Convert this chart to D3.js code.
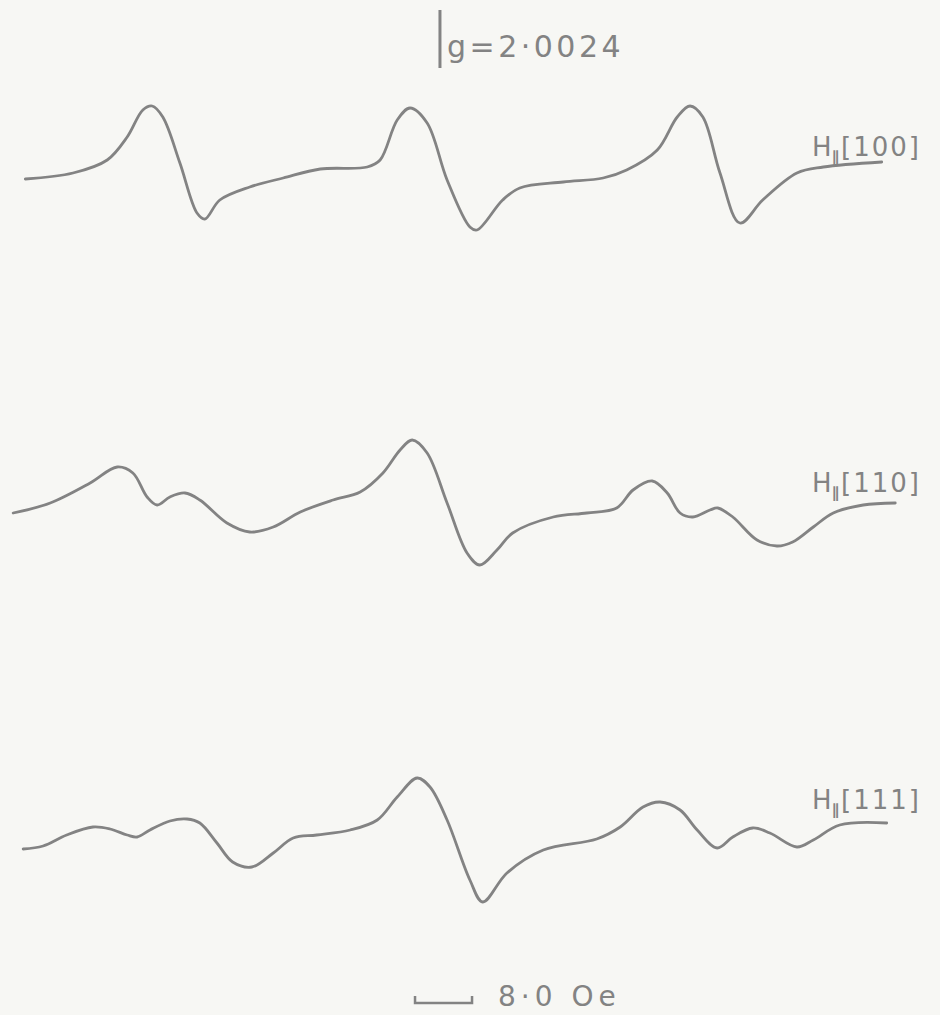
<!DOCTYPE html>
<html>
<head>
<meta charset="utf-8">
<script src="https://cdn.jsdelivr.net/npm/d3@7"></script>
<style>
  html, body { margin: 0; padding: 0; background: #f7f7f4; }
  svg { display: block; }
</style>
</head>
<body>
<div id="chart"></div>
<script>
// magnetic field offset from g = 2.0024 (Oe) and derivative signal (arb. units)
const field100 = [-58.2, -51.5, -46.7, -43.9, -41.7, -40.4, -38.9, -36.5, -34.1, -33.0, -30.9, -26.7, -22.0, -16.8, -10.2, -8.4, -6.0, -4.2, -1.8, 1.0, 4.2, 5.2, 8.8, 11.2, 17.3, 22.9, 26.2, 30.5, 33.3, 35.1, 36.9, 39.3, 42.1, 45.3, 50.1, 53.8, 62.0];
const signal100 = [-0.9, -0.3, 1.0, 3.3, 6.0, 6.4, 5.3, 0.7, -4.3, -4.9, -3.0, -1.7, -0.8, 0.1, 0.3, 1.0, 5.0, 6.2, 4.7, -1.0, -5.7, -6.0, -3.0, -1.8, -1.2, -0.8, 0.0, 2.0, 5.3, 6.4, 5.3, -0.3, -5.3, -3.0, -0.3, 0.3, 0.8];

const field110 = [-59.9, -54.7, -49.1, -45.3, -43.1, -41.1, -39.7, -37.9, -35.8, -33.7, -29.9, -26.7, -23.4, -19.6, -15.0, -11.2, -8.0, -5.6, -3.9, -1.8, 1.0, 3.8, 5.6, 8.0, 10.2, 15.9, 20.6, 24.8, 27.1, 29.8, 31.9, 33.7, 35.5, 37.9, 39.0, 41.1, 44.5, 47.3, 49.5, 52.4, 55.2, 59.4, 63.9];
const signal110 = [-0.8, 0.2, 2.2, 3.8, 3.2, 0.8, 0.0, 0.8, 1.2, 0.5, -1.8, -2.7, -2.2, -0.7, 0.5, 1.3, 3.2, 5.5, 6.5, 5.2, 0.2, -4.8, -6.0, -4.5, -2.8, -1.2, -0.8, -0.3, 1.5, 2.4, 1.2, -0.8, -1.2, -0.5, -0.3, -1.2, -3.5, -4.1, -3.7, -2.2, -0.8, 0.0, 0.2];

const field111 = [-58.5, -55.7, -52.4, -48.7, -46.3, -43.9, -42.5, -40.7, -37.9, -35.5, -33.7, -31.3, -29.1, -26.4, -23.4, -20.6, -17.3, -12.6, -8.8, -6.0, -3.2, -1.4, 1.0, 4.2, 6.0, 9.4, 14.5, 22.0, 25.3, 28.5, 30.9, 33.7, 36.1, 38.9, 41.1, 43.9, 46.3, 50.1, 52.4, 56.1, 62.7];
const signal111 = [-1.4, -1.1, 0.0, 0.8, 0.6, 0.0, -0.2, 0.5, 1.4, 1.6, 1.2, -0.8, -2.7, -3.2, -1.8, -0.3, 0.0, 0.5, 1.5, 3.8, 5.7, 4.8, 1.5, -4.5, -6.7, -3.8, -1.5, -0.4, 0.8, 2.8, 3.3, 2.5, 0.5, -1.3, -0.2, 0.7, 0.2, -1.2, -0.5, 1.0, 1.2];

const orientations = ['[100]', '[110]', '[111]'];
const gValue = '2·0024';
const scaleBarOe = 8.0;

const width = 940, height = 1015;
const ink = '#838383';
const baselines = [170, 505, 835];

const svg = d3.select('#chart').append('svg')
  .attr('width', width)
  .attr('height', height);

svg.append('rect')
  .attr('width', width).attr('height', height)
  .attr('fill', '#f7f7f4');

// field axis: 0 Oe sits under the g marker
const x = d3.scaleLinear().domain([-61.75, 70.18]).range([0, width]);

const traces = [
  { field: field100, signal: signal100 },
  { field: field110, signal: signal110 },
  { field: field111, signal: signal111 },
];

traces.forEach((t, k) => {
  const y = d3.scaleLinear().domain([-10, 10]).range([baselines[k] + 100, baselines[k] - 100]);
  const line = d3.line()
    .x((d, i) => x(t.field[i]))
    .y((d, i) => y(t.signal[i]))
    .curve(d3.curveCatmullRom.alpha(0.5));

  svg.append('path')
    .datum(t.signal)
    .attr('d', line)
    .attr('fill', 'none')
    .attr('stroke', ink)
    .attr('stroke-width', 2.8)
    .attr('stroke-linejoin', 'round')
    .attr('stroke-linecap', 'round');

  // label: H∥[hkl]
  const lbl = svg.append('text')
    .attr('x', 812)
    .attr('y', baselines[k] - [14, 13, 26][k])
    .attr('font-family', 'DejaVu Sans, sans-serif')
    .attr('font-size', 26)
    .attr('letter-spacing', 2)
    .attr('fill', ink);
  lbl.append('tspan').text('H');
  lbl.append('tspan').attr('font-size', 15).attr('font-weight', 'bold').attr('dy', 6).attr('dx', -2).text('∥');
  lbl.append('tspan').attr('dy', -6).attr('dx', 0).text(orientations[k]);
});

// g marker
svg.append('line')
  .attr('x1', x(0)).attr('x2', x(0))
  .attr('y1', 10).attr('y2', 68)
  .attr('stroke', ink)
  .attr('stroke-width', 3);

svg.append('text')
  .attr('x', x(0) + 7)
  .attr('y', 57)
  .attr('font-family', 'DejaVu Sans, sans-serif')
  .attr('font-size', 30)
  .attr('letter-spacing', 3.5)
  .attr('fill', ink)
  .text('g=' + gValue);

// scale bar
const barStart = -3.5;
const barY = 1003;
svg.append('path')
  .attr('d', `M${x(barStart)},${barY - 7}V${barY}H${x(barStart + scaleBarOe)}V${barY - 7}`)
  .attr('fill', 'none')
  .attr('stroke', ink)
  .attr('stroke-width', 2.5);

svg.append('text')
  .attr('x', 498)
  .attr('y', barY + 3)
  .attr('font-family', 'DejaVu Sans, sans-serif')
  .attr('font-size', 28)
  .attr('letter-spacing', 5)
  .attr('fill', ink)
  .text('8·0 Oe');
</script>
</body>
</html>
